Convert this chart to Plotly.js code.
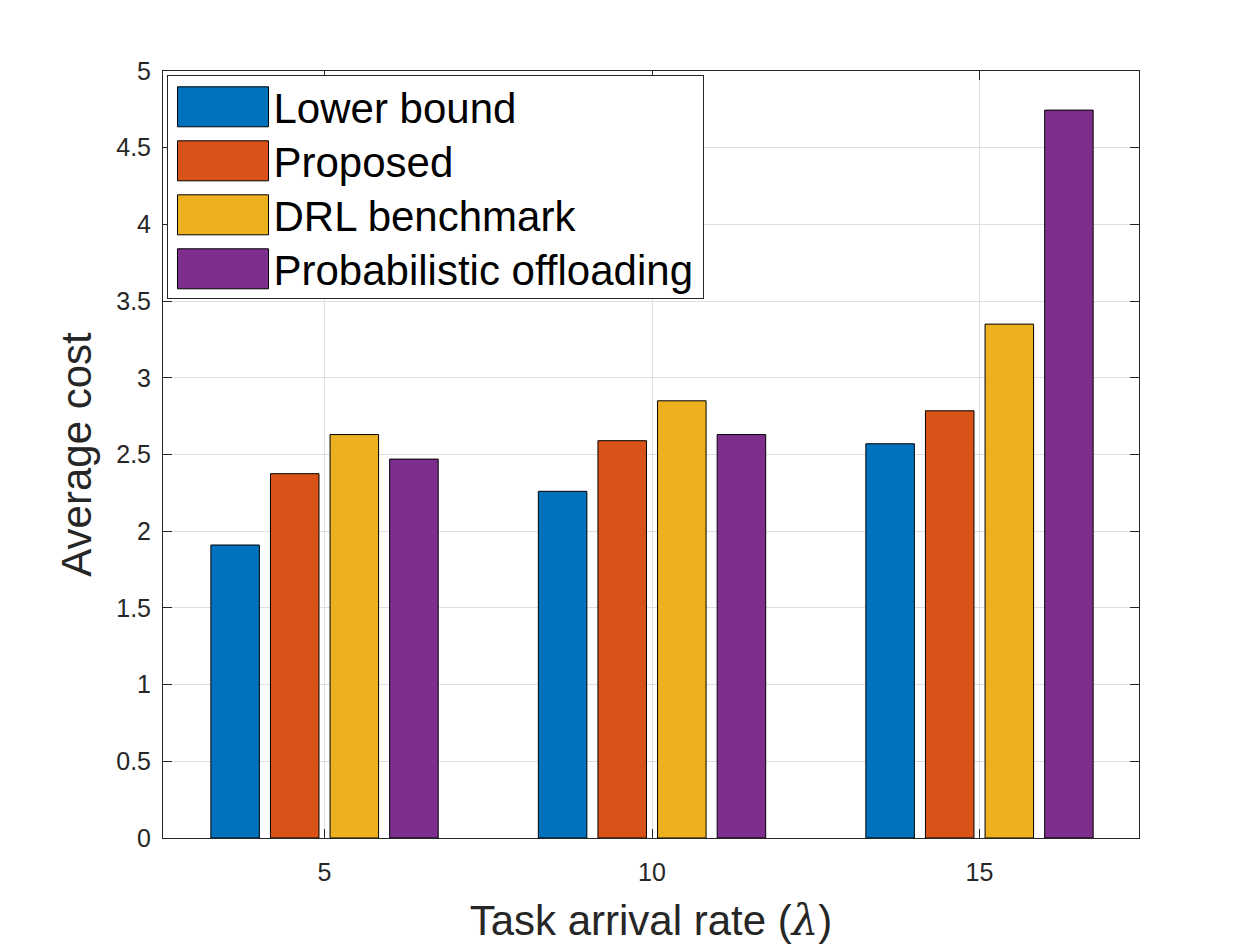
<!DOCTYPE html>
<html>
<head>
<meta charset="utf-8">
<script src="https://cdn.plot.ly/plotly-3.0.1.min.js"></script>
<style>html,body{margin:0;padding:0;background:#fff}</style>
</head>
<body>
<div id="chart" style="width:1260px;height:945px"></div>
<script>
var rates = [5, 10, 15];
var seriesNames = ['Lower bound', 'Proposed', 'DRL benchmark', 'Probabilistic offloading'];
var seriesColors = ['#0072BD', '#D95319', '#EDB120', '#7E2F8E'];
var lowerBound = [1.91, 2.26, 2.57];
var proposed = [2.375, 2.59, 2.785];
var drl = [2.63, 2.85, 3.35];
var probabilistic = [2.47, 2.63, 4.745];
var yTicks = [0, 0.5, 1, 1.5, 2, 2.5, 3, 3.5, 4, 4.5, 5];

var allSeries = [lowerBound, proposed, drl, probabilistic];
var data = allSeries.map(function (vals, i) {
  return {
    type: 'bar',
    name: seriesNames[i],
    x: rates,
    y: vals,
    marker: { color: seriesColors[i], line: { color: '#000', width: 1 } }
  };
});

var layout = {
  width: 1260,
  height: 945,
  margin: { l: 0, r: 0, t: 0, b: 0 },
  paper_bgcolor: '#fff',
  plot_bgcolor: '#fff',
  font: { family: 'Liberation Sans, Arial, sans-serif', color: '#262626' },
  barmode: 'group',
  bargap: 0.272,
  bargroupgap: 0.186,
  xaxis: {
    domain: [163 / 1260, 1139 / 1260],
    range: [2.534, 17.435],
    tickmode: 'array',
    tickvals: rates,
    ticks: 'inside',
    ticklen: 9,
    tickcolor: '#262626',
    tickfont: { size: 25 },
    ticklabelstandoff: 12,
    showgrid: true,
    gridcolor: '#dfdfdf',
    zeroline: false,
    mirror: 'ticks',
    showline: true,
    linecolor: '#262626',
    linewidth: 1,
    title: {
      text: 'Task arrival rate (<span style="font-family:DejaVu Serif"><i>λ</i></span>)',
      font: { size: 42 },
      standoff: 22
    }
  },
  yaxis: {
    domain: [1 - 838 / 945, 1 - 71 / 945],
    range: [0, 5],
    tickmode: 'array',
    tickvals: yTicks,
    ticktext: yTicks.map(String),
    ticks: 'inside',
    ticklen: 9,
    tickcolor: '#262626',
    tickfont: { size: 25 },
    ticklabelstandoff: 6,
    showgrid: true,
    gridcolor: '#dfdfdf',
    zeroline: false,
    mirror: 'ticks',
    showline: true,
    linecolor: '#262626',
    linewidth: 1,
    title: { text: 'Average cost', font: { size: 42 }, standoff: 11 }
  },
  legend: {
    x: 167 / 1260,
    y: 1 - 75 / 945,
    xanchor: 'left',
    yanchor: 'top',
    bgcolor: '#fff',
    bordercolor: '#262626',
    borderwidth: 1,
    itemwidth: 91,
    font: { size: 42, color: '#000' },
    traceorder: 'normal'
  },
  showlegend: true
};

Plotly.newPlot('chart', data, layout, { displayModeBar: false }).then(function (gd) {
  // plotly's bar swatches are tiny and its rows too tall, tighten to the reference
  gd.querySelectorAll('.legend .legendpoints path').forEach(function (p) {
    p.setAttribute('d', 'M-45.5,-20H45.5V20H-45.5Z');
  });
  var firstY = null;
  gd.querySelectorAll('.legend .traces').forEach(function (t, i) {
    var m = /translate\(([^,]+),\s*([^)]+)\)/.exec(t.getAttribute('transform'));
    if (firstY === null) firstY = parseFloat(m[2]);
    t.setAttribute('transform', 'translate(' + (parseFloat(m[1]) + 4.5) + ',' + (firstY - 3 + 54 * i) + ')');
  });
  var bg = gd.querySelector('.legend .bg');
  bg.setAttribute('width', 536);
  bg.setAttribute('height', 223);
});
</script>
</body>
</html>
